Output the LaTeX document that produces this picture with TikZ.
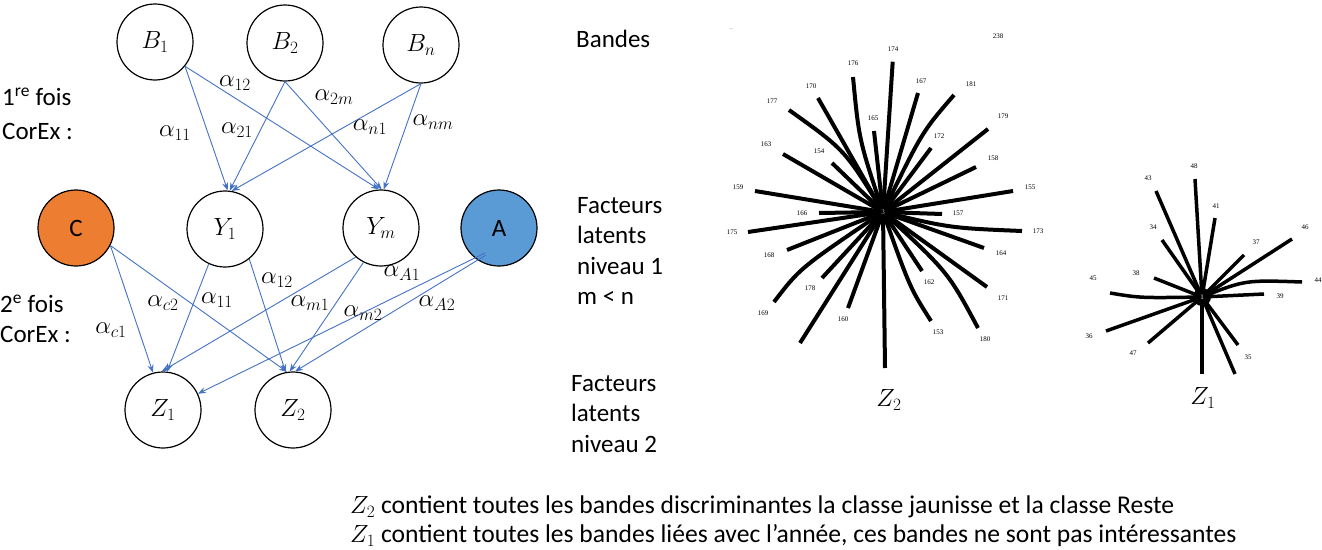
\documentclass[tikz,border=0pt]{standalone}
\usepackage{fontspec}
\setmainfont{Carlito}
\newfontfamily\timesf{Liberation Serif}
\usetikzlibrary{arrows.meta,calc}
\definecolor{arrowblue}{HTML}{4472C4}
\definecolor{corange}{HTML}{ED7D31}
\definecolor{cblue}{HTML}{5B9BD5}
\begin{document}
\begin{tikzpicture}[x=1pt,y=-1pt,
  vnode/.style={circle,draw=black,line width=1.2pt,minimum size=76pt,inner sep=0pt,font=\fontsize{26.5}{30}\selectfont},
  conn/.style={draw=arrowblue,line width=0.9pt,-{Stealth[length=8pt,width=6pt]}},
  alab/.style={font=\fontsize{27}{30}\selectfont,inner sep=0pt},
  txt/.style={font=\fontsize{25}{30.5}\selectfont,inner sep=0pt,anchor=west,align=left},
  btxt/.style={font=\fontsize{25.6}{30}\selectfont,inner sep=0pt,anchor=west},
  ray/.style={line width=4pt,black},
  rayone/.style={line width=3.5pt,black},
  num/.style={font=\timesf\fontsize{7}{8}\selectfont,inner sep=0pt}]
\useasboundingbox (0,0) rectangle (1322,549);
\fill[white] (0,0) rectangle (1322,549);

% ---------- graph nodes ----------
\node[vnode] (B1) at (155,42) {$B_1$};
\node[vnode] (B2) at (285,43) {$B_2$};
\node[vnode] (Bn) at (421,45) {$B_n$};
\node[vnode] (Y1) at (225,229) {$Y_1$};
\node[vnode] (Ym) at (381,228) {$Y_m$};
\node[vnode,font=\fontsize{25}{30}\selectfont,fill=corange] (C) at (76,228) {C};
\node[vnode,font=\fontsize{25}{30}\selectfont,fill=cblue] (A) at (499,228) {A};
\node[vnode] (Z1) at (163,410) {$Z_1$};
\node[vnode] (Z2) at (293,410) {$Z_2$};
\coordinate (Aout1) at ($(A.center)+(-14,25)$);
\coordinate (Aout2) at ($(A.center)+(-13,27)$);

% ---------- connectors, first level ----------
\draw[conn] (B1.-39) -- (Y1.86);
\draw[conn] (B1.-39) -- (Ym.93);
\draw[conn] (B2.-90) -- (Y1.83);
\draw[conn] (B2.-90) -- (Ym.89);
\draw[conn] (Bn.-90) -- (Y1.80);
\draw[conn] (Bn.-90) -- (Ym.86);

% ---------- connectors, second level ----------
\draw[conn] (C.-27) -- (Z1.105);
\draw[conn] (C.-27) -- (Z2.99);
\draw[conn] (Y1.-115) -- (Z1.84);
\draw[conn] (Y1.-51) -- (Z2.101);
\draw[conn] (Ym.-131) -- (Z1.92);
\draw[conn] (Ym.-117) -- (Z2.95);
\draw[conn] (Aout1) -- (Z1.25);
\draw[conn] (Aout2) -- (Z2.87);

% ---------- edge labels ----------
\node[alab] (l12) at (235,83) {$\alpha_{12}$};
\node[alab] (l2m) at (334,97) {$\alpha_{2m}$};
\node[alab] (l11) at (175,133) {$\alpha_{11}$};
\node[alab] (l21) at (237,130) {$\alpha_{21}$};
\node[alab] (ln1) at (370,127) {$\alpha_{n1}$};
\node[alab] (lnm) at (433,122) {$\alpha_{nm}$};
\node[alab] (lc2) at (163,303) {$\alpha_{c2}$};
\node[alab] (lb11) at (217,300) {$\alpha_{11}$};
\node[alab] (lb12) at (277,280) {$\alpha_{12}$};
\node[alab] (lm1) at (310,303) {$\alpha_{m1}$};
\node[alab] (lA1) at (402,273) {$\alpha_{A1}$};
\node[alab] (lm2) at (363,313) {$\alpha_{m2}$};
\node[alab] (lA2) at (437,303) {$\alpha_{A2}$};
\node[alab] (lc1) at (111,330) {$\alpha_{c1}$};

% ---------- side texts ----------
\node[txt] (t1a) at (2,97) {1\textsuperscript{re} fois};
\node[txt] (t1b) at (2,131) {CorEx :};
\node[txt] (t2a) at (0,304) {2\textsuperscript{e} fois};
\node[txt] (t2b) at (0,334) {CorEx :};
\node[txt] (band) at (576,39) {Bandes};
\node[txt,anchor=north west] (fl1) at (577,197) {Facteurs\\latents\\niveau 1\\m < n};
\node[txt,anchor=north west] (fl2) at (571,375) {Facteurs\\latents\\niveau 2};
\node[btxt] (bot1) at (350,507) {$Z_2$ contient toutes les bandes discriminantes la classe jaunisse et la classe Reste};
\node[btxt] (bot2) at (350,536) {$Z_1$ contient toutes les bandes liées avec l’année, ces bandes ne sont pas intéressantes};

% ---------- star plot Z2 ----------
\coordinate (c2) at (883,212);
\foreach \ex/\ey/\lab/\lx/\ly in {
  892.7/61.7/174/893/49, 818/98/170/811/86, 874/131/165/873/118,
  918/93/167/921/81, 988/129/179/1003/116, 931/148/172/939/136,
  976/167/158/993/158, 783/154/163/766/144, 832/163/154/819/151,
  755/191/159/738/187, 1013/191/155/1030/187, 819/213/166/802/213,
  942/214/157/958/213, 748/232/175/732/232, 787/250/168/769/255,
  984/248/164/1001/253, 822/278/178/810/288, 922/271/162/929/282,
  987/287/171/1003/298, 848/308/160/843/319}{
  \draw[ray] (c2) -- (\ex,\ey);
  \node[num] at (\lx,\ly) {\lab};
}
\draw[ray] (c2) -- (800,343);
\draw[ray] (c2) -- (885,368);
\draw[ray] (c2) .. controls (859,140) .. (853,77);
\draw[ray] (c2) .. controls (845,150) .. (789,110);
\draw[ray] (c2) .. controls (922,132) .. (954,95);
\draw[ray] (c2) .. controls (950,228) .. (1022,231);
\draw[ray] (c2) .. controls (800,268) .. (774,302);
\draw[ray] (c2) .. controls (910,288) .. (931,321);
\draw[ray] (c2) .. controls (948,272) .. (978,328);
\node[num] at (853,63) {176};
\node[num] at (772,101) {177};
\node[num] at (971,84) {181};
\node[num] at (1038,231) {173};
\node[num] at (763,313) {169};
\node[num] at (938,332) {153};
\node[num] at (985,339) {180};
\node[num] at (998,36) {238};
\node[num,text=gray] at (731,29) {..};
\fill[black] (c2) circle (6);
\node[num,text=gray!60] at (c2) {3};
\node[alab] (z2lab) at (889,400) {$Z_2$};

% ---------- star plot Z1 ----------
\coordinate (c1) at (1202,297);
\foreach \ex/\ey/\lab/\lx/\ly in {
  1195/179/48/1194/166, 1156/191/43/1148/178, 1215/218/41/1216/206,
  1162/240/34/1153/227, 1292/239/46/1305/227, 1244/255/37/1256/242,
  1264/294/39/1280/296, 1154/278/38/1136/273, 1106/331/36/1089/336,
  1148/343/47/1133/353, 1238/345/35/1248/357}{
  \draw[rayone] (c1) -- (\ex,\ey);
  \node[num] at (\lx,\ly) {\lab};
}
\draw[rayone] (c1) -- (1235,374);
\draw[rayone] (c1) -- (1202,374);
\draw[rayone] (c1) .. controls (1245,280) .. (1302,282);
\draw[rayone] (c1) .. controls (1140,298) .. (1110,293);
\node[num] at (1318,280) {44};
\node[num] at (1093,278) {45};
\fill[black] (c1) circle (9);
\node[num,text=white] at (c1) {1};
\node[alab] (z1lab) at (1203,398) {$Z_1$};
\end{tikzpicture}
\end{document}
